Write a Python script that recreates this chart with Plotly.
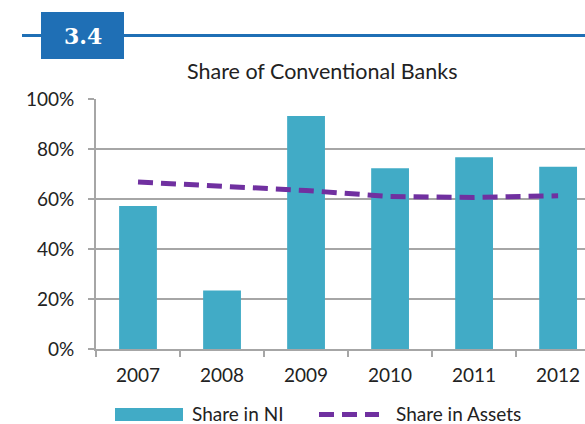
import plotly.graph_objects as go

years = ["2007", "2008", "2009", "2010", "2011", "2012"]
share_ni = [57.2, 23.4, 93.2, 72.3, 76.7, 72.9]
share_assets = [66.8, 65.2, 63.4, 61.0, 60.6, 61.3]
y_ticks = [0, 20, 40, 60, 80, 100]
y_tick_labels = ["0%", "20%", "40%", "60%", "80%", "100%"]

W, H = 585, 424
L, R, T, B = 96, 0, 99, 75
PW, PH = W - L - R, H - T - B

def px(x):
    return (x - L) / PW

def py(y):
    return (H - B - y) / PH

FONT = "Lato"
BAR_C = "#41ABC6"
LINE_C = "#7030A0"
GRID_C = "#A6A6A6"
HEAD_C = "#1F6FB5"
TXT_C = "#222222"

fig = go.Figure()
fig.add_trace(go.Bar(x=years, y=share_ni, name="Share in NI", marker_color=BAR_C,
                     marker_line_width=0, width=0.45, showlegend=False))
fig.add_trace(go.Scatter(x=years, y=share_assets, name="Share in Assets", mode="lines",
                         line=dict(color=LINE_C, width=5, dash="15px,8px"), showlegend=False))

shapes = []
shapes.append(dict(type="line", xref="paper", yref="paper", x0=px(22), x1=px(585),
                   y0=py(35.5), y1=py(35.5), line=dict(color=HEAD_C, width=3)))
shapes.append(dict(type="rect", xref="paper", yref="paper", x0=px(41), x1=px(124),
                   y0=py(59), y1=py(12), fillcolor=HEAD_C, line_width=0))
shapes.append(dict(type="rect", xref="paper", yref="paper", x0=px(115), x1=px(183),
                   y0=py(421), y1=py(408), fillcolor=BAR_C, line_width=0))
shapes.append(dict(type="line", xref="paper", yref="paper", x0=px(319), x1=px(379),
                   y0=py(414.5), y1=py(414.5), line=dict(color=LINE_C, width=5, dash="15px,8px")))

annotations = [
    dict(text="<b>3.4</b>", xref="paper", yref="paper", x=px(82.5), y=py(35.5),
         showarrow=False, font=dict(family="DejaVu Serif", size=22, color="white"),
         xanchor="center", yanchor="middle"),
    dict(text="Share of Conventional Banks", xref="paper", yref="paper", x=px(322), y=py(71),
         showarrow=False, font=dict(family=FONT, size=21.5, color=TXT_C),
         xanchor="center", yanchor="middle"),
    dict(text="Share in NI", xref="paper", yref="paper", x=px(190), y=py(413.5),
         showarrow=False, font=dict(family=FONT, size=19, color=TXT_C),
         xanchor="left", yanchor="middle"),
    dict(text="Share in Assets", xref="paper", yref="paper", x=px(394), y=py(413.5),
         showarrow=False, font=dict(family=FONT, size=19, color=TXT_C),
         xanchor="left", yanchor="middle"),
]

fig.update_layout(
    width=W, height=H,
    margin=dict(l=L, r=R, t=T, b=B, pad=0),
    paper_bgcolor="white", plot_bgcolor="white",
    shapes=shapes, annotations=annotations,
    font=dict(family=FONT, size=19, color=TXT_C),
    xaxis=dict(range=[-0.5, 5.32], showline=True, linecolor=GRID_C, linewidth=2,
               ticks="outside", tickson="boundaries", ticklen=6, tickcolor=GRID_C,
               tickwidth=2, showgrid=False, ticklabelstandoff=8, fixedrange=True),
    yaxis=dict(range=[0, 100], tickvals=y_ticks, ticktext=y_tick_labels,
               showline=True, linecolor=GRID_C, linewidth=2,
               ticks="outside", ticklen=6, tickcolor=GRID_C, tickwidth=2,
               showgrid=True, gridcolor=GRID_C, gridwidth=2, zeroline=False,
               ticklabelstandoff=10),
    bargap=0.55,
)
fig.write_html("out.html", config={"displayModeBar": False},
               post_script="document.body.style.margin='0';document.body.style.overflow='hidden';")
